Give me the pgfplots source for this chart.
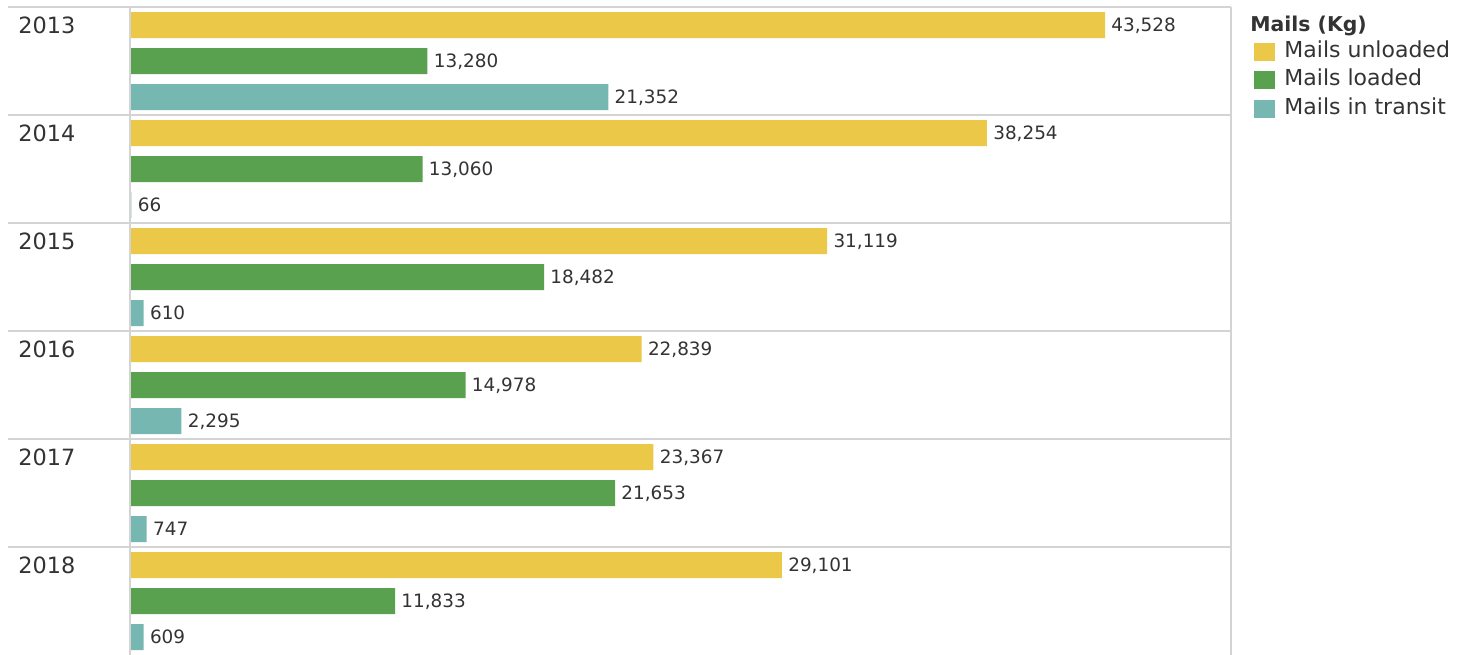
\documentclass[border=0pt]{standalone}
\usepackage{fontspec}
\setmainfont{DejaVu Sans}
\usepackage{pgfplots}
\pgfplotsset{compat=1.18}
\definecolor{cyel}{HTML}{EBC848}
\definecolor{cgrn}{HTML}{59A14F}
\definecolor{ctea}{HTML}{76B7B2}
\definecolor{cline}{HTML}{D4D4D4}
\definecolor{ctext}{HTML}{333333}
\begin{document}
\begin{tikzpicture}
\useasboundingbox (0,0) rectangle (737.5pt,-327pt);
\begin{axis}[
 at={(65pt,-3.5pt)}, anchor=north west,
 scale only axis, width=550.5pt, height=324pt,
 xmin=0, xmax=49150, ymin=0, ymax=18, y dir=reverse,
 clip=false,
 axis line style={draw=none},
 xtick=\empty,
 ytick={0.5,3.5,6.5,9.5,12.5,15.5},
 yticklabels={2013,2014,2015,2016,2017,2018},
 major tick length=0pt,
 yticklabel style={anchor=west, inner sep=0pt, xshift=-56pt, text depth=0pt, font=\fontsize{11.2}{13}\selectfont, text=ctext},
 xbar, bar width=13pt, bar shift=0pt,
 point meta=x,
 nodes near coords,
 every node near coord/.append style={anchor=west, inner sep=0pt, xshift=3pt, text depth=0pt, font=\fontsize{9.2}{11}\selectfont, text=ctext},
 /pgf/number format/fixed, /pgf/number format/precision=0, /pgf/number format/1000 sep={,}, /pgf/number format/assume math mode=true,
 legend image code/.code={\fill[#1] (0pt,-4.5pt) rectangle (10.5pt,4.5pt);},
 legend style={at={(axis description cs:1,1)}, anchor=north west, xshift=11.5pt, yshift=-17pt, draw=none, fill=none, inner sep=0pt, row sep=3.75pt, column sep=4.5pt, font=\fontsize{11}{13}\selectfont, text=ctext, nodes={inner sep=0pt, text height=8pt, text depth=2.5pt}},
 legend cell align=left,
]
\addplot[draw=none, fill=cyel] coordinates {(43528,0.5) (38254,3.5) (31119,6.5) (22839,9.5) (23367,12.5) (29101,15.5)};
\addlegendentry{Mails unloaded}
\addplot[draw=none, fill=cgrn] coordinates {(13280,1.5) (13060,4.5) (18482,7.5) (14978,10.5) (21653,13.5) (11833,16.5)};
\addlegendentry{Mails loaded}
\addplot[draw=none, fill=ctea] coordinates {(21352,2.5) (66,5.5) (610,8.5) (2295,11.5) (747,14.5) (609,17.5)};
\addlegendentry{Mails in transit}
\draw[cline, line width=0.7pt] (axis cs:0,0) -- (axis cs:0,18);
\draw[cline, line width=0.7pt] (axis cs:49150,0) -- (axis cs:49150,18);
\draw[cline, line width=0.7pt] ([xshift=-61pt]axis cs:0,0) -- (axis cs:49150,0);
\draw[cline, line width=0.7pt] ([xshift=-61pt]axis cs:0,3) -- (axis cs:49150,3);
\draw[cline, line width=0.7pt] ([xshift=-61pt]axis cs:0,6) -- (axis cs:49150,6);
\draw[cline, line width=0.7pt] ([xshift=-61pt]axis cs:0,9) -- (axis cs:49150,9);
\draw[cline, line width=0.7pt] ([xshift=-61pt]axis cs:0,12) -- (axis cs:49150,12);
\draw[cline, line width=0.7pt] ([xshift=-61pt]axis cs:0,15) -- (axis cs:49150,15);
\node[anchor=west, inner sep=0pt, font=\bfseries\fontsize{10.2}{12}\selectfont, text=ctext] at ([xshift=9.5pt, yshift=-9.5pt]axis description cs:1,1) {Mails (Kg)};
\end{axis}
\end{tikzpicture}
\end{document}
